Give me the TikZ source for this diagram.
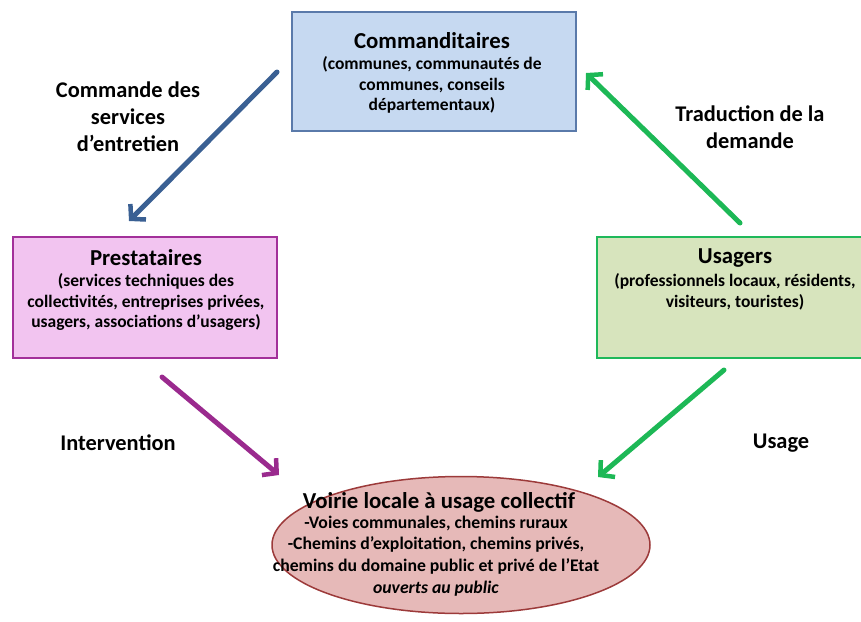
\documentclass[tikz,border=0pt]{standalone}
\usepackage{fontspec}
\setmainfont{Carlito}
\usetikzlibrary{arrows.meta,shapes.geometric}
\definecolor{cblue}{HTML}{C6D9F1}
\definecolor{cblueb}{HTML}{5A7AAA}
\definecolor{cpink}{HTML}{F2C4F0}
\definecolor{cpinkb}{HTML}{A3309A}
\definecolor{cgreen}{HTML}{D7E4BD}
\definecolor{cgreenb}{HTML}{1FB85A}
\definecolor{cred}{HTML}{E6B9B8}
\definecolor{credb}{HTML}{9C3A3A}
\definecolor{arblue}{HTML}{3A6093}
\definecolor{arpurple}{HTML}{9A2A8E}
\definecolor{argreen}{HTML}{1DB856}
\tikzset{
  ttl/.style={font=\fontsize{22.8}{26}\selectfont\bfseries},
  sub/.style={font=\fontsize{17.5}{20.5}\selectfont\bfseries, align=center},
  esub/.style={font=\fontsize{17.7}{21.7}\selectfont\bfseries, align=center},
  lbl/.style={font=\fontsize{22.4}{27}\selectfont\bfseries, align=center},
  arr/.style={line width=5pt, -{Straight Barb[length=10pt,width=22pt,line width=4.5pt]}, line cap=round}
}
\begin{document}
\begin{tikzpicture}[x=1pt,y=-1pt]
\useasboundingbox (0,0) rectangle (861,621);
% boxes
\draw[fill=cblue, draw=cblueb, line width=1.5pt] (292,12) rectangle (576,131);
\node[ttl] (cmdt) at (432,41) {Commanditaires};
\node[sub] (cmds) at (432,85) {(communes, communautés de\\communes, conseils\\départementaux)};

\draw[fill=cpink, draw=cpinkb, line width=1.5pt] (13,237) rectangle (277,358);
\node[ttl] (prt) at (146,258) {Prestataires};
\node[sub] (prs) at (146,302) {(services techniques des\\collectivités, entreprises privées,\\usagers, associations d’usagers)};

\draw[fill=cgreen, draw=cgreenb, line width=1.5pt] (597,237) rectangle (862,358);
\node[ttl] (ust) at (735,258) {Usagers};
\node[sub] (uss) at (735,292) {(professionnels locaux, résidents,\\visiteurs, touristes)};

\node[ellipse, draw=credb, fill=cred, line width=1.5pt, minimum width=378pt, minimum height=137pt, inner sep=0pt] (voi) at (461,545) {};
\node[ttl] (voit) at (439,502) {Voirie locale à usage collectif};
\node[esub] (vois) at (436,556) {-Voies communales, chemins ruraux\\-Chemins d’exploitation, chemins privés,\\chemins du domaine public et privé de l’Etat\\\textit{ouverts au public}};

% arrow endpoints
\coordinate (a1s) at (277,72); \coordinate (a1e) at (129,221);
\coordinate (a2s) at (740,223); \coordinate (a2e) at (586,73);
\coordinate (a3s) at (162,377); \coordinate (a3e) at (279,475);
\coordinate (a4s) at (724,370); \coordinate (a4e) at (598,477);
\draw[arr, arblue] (a1s) -- (a1e);
\draw[arr, argreen] (a2s) -- (a2e);
\draw[arr, arpurple] (a3s) -- (a3e);
\draw[arr, argreen] (a4s) -- (a4e);

% labels
\node[lbl] (l1) at (128,117) {Commande des\\services\\d’entretien};
\node[lbl] (l2) at (750,127) {Traduction de la\\demande};
\node[lbl] (l3) at (118,443) {Intervention};
\node[lbl] (l4) at (781,443) {Usage};
\end{tikzpicture}
\end{document}
